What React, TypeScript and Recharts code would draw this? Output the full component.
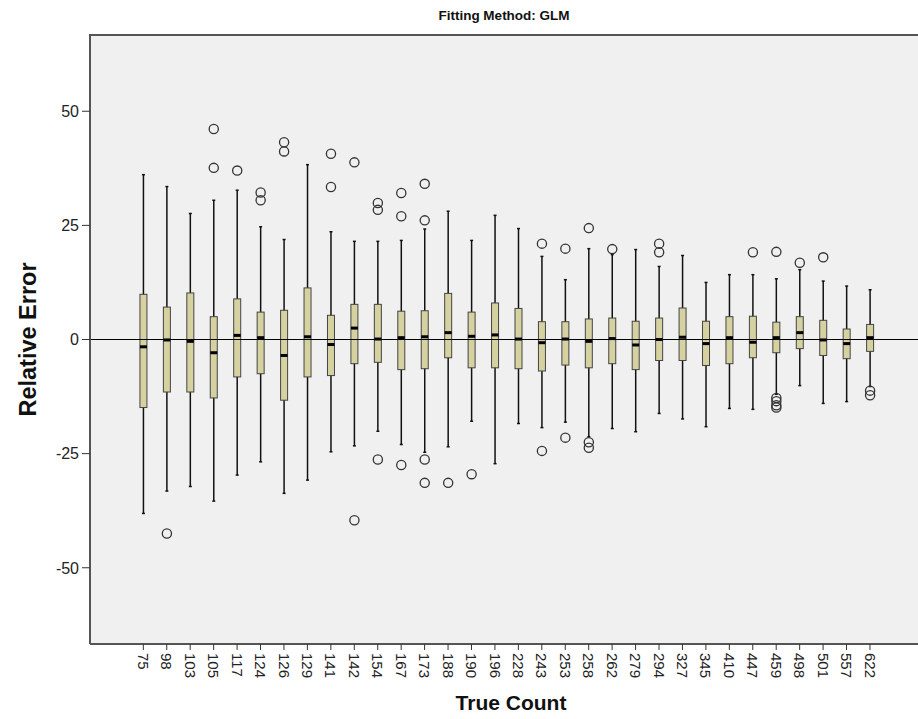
import React from 'react';
import { ComposedChart, Bar, XAxis, YAxis, CartesianGrid, ReferenceLine } from 'recharts';

const categories = ['75','98','103','105','117','124','126','129','141','142','154','167','173','188','190','196','228','243','253','258','262','279','294','327','345','410','447','459','498','501','557','622'];
const whiskerHigh = [36.1,33.5,27.6,30.5,32.7,24.7,21.9,38.3,23.6,21.5,21.5,21.7,24.2,28.1,21.7,27.2,24.3,18.2,13.1,19.9,18.6,19.7,16.0,18.4,12.5,14.2,14.2,13.3,15.3,12.8,11.7,10.9];
const q3 = [9.9,7.1,10.2,5.0,8.9,6.0,6.4,11.3,5.3,7.7,7.7,6.2,6.3,10.1,6.0,8.0,6.8,3.9,3.9,4.5,4.7,4.0,4.7,6.9,4.0,5.0,5.1,3.8,5.0,4.2,2.3,3.3];
const median = [-1.6,-0.1,-0.4,-2.9,0.9,0.4,-3.5,0.6,-1.1,2.5,0.1,0.4,0.6,1.5,0.7,1.0,0.1,-0.7,0.1,-0.4,0.2,-1.2,0.0,0.5,-0.9,0.4,-0.6,0.4,1.5,-0.1,-0.9,0.4];
const q1 = [-14.9,-11.5,-11.5,-12.8,-8.2,-7.5,-13.3,-8.2,-7.9,-5.3,-5.0,-6.6,-6.4,-4.0,-6.2,-6.2,-6.4,-6.9,-5.6,-6.2,-5.3,-6.6,-4.6,-4.6,-5.7,-5.3,-4.0,-2.9,-2.0,-3.5,-4.2,-2.6];
const whiskerLow = [-38.1,-33.2,-32.2,-35.4,-29.7,-26.8,-33.7,-30.8,-24.6,-23.3,-20.1,-23.0,-24.7,-23.5,-17.9,-27.2,-18.4,-19.3,-18.1,-21.3,-19.5,-20.2,-16.2,-17.4,-19.1,-15.1,-15.3,-12.0,-10.1,-14.0,-13.6,-10.3];
const outliers: number[][] = [
  [], [-42.5], [], [46.1, 37.6], [37.0], [32.2, 30.5], [43.2, 41.2], [], [40.7, 33.4], [38.8, -39.6],
  [29.9, 28.4, -26.3], [32.1, 27.0, -27.5], [34.1, 26.1, -26.3, -31.4], [-31.4], [-29.5], [], [],
  [21.0, -24.4], [19.9, -21.5], [24.4, -22.5, -23.7], [19.8], [], [21.0, 19.1], [], [], [], [19.1],
  [19.2, -12.8, -13.5, -14.4, -14.9], [16.8], [18.0], [], [-11.2, -12.2]
];
const yTicks = [-50, -25, 0, 25, 50];
const yDomain = [-66.7, 66.7];

const data = categories.map((c, i) => ({
  label: c,
  range: [whiskerLow[i], whiskerHigh[i]],
  lo: whiskerLow[i], hi: whiskerHigh[i], q1: q1[i], q3: q3[i], med: median[i], out: outliers[i],
}));

const FONT = '"Liberation Sans", Arial, sans-serif';

const BoxShape = (props: any) => {
  const { x, y, width, height, payload } = props;
  if (payload == null || x == null) return null;
  const top = Math.min(y, y + height);
  const bottom = Math.max(y, y + height);
  const ppu = (bottom - top) / (payload.hi - payload.lo);
  const py = (v: number) => bottom - (v - payload.lo) * ppu;
  const cx = x + width / 2;
  const bw = 7;
  const cap = 3;
  return (
    <g>
      <line x1={cx} x2={cx} y1={py(payload.hi)} y2={py(payload.lo)} stroke="#111" strokeWidth={1.5} />
      <line x1={cx - cap / 2} x2={cx + cap / 2} y1={py(payload.hi)} y2={py(payload.hi)} stroke="#111" strokeWidth={1.5} />
      <line x1={cx - cap / 2} x2={cx + cap / 2} y1={py(payload.lo)} y2={py(payload.lo)} stroke="#111" strokeWidth={1.5} />
      <rect x={cx - bw / 2} y={py(payload.q3)} width={bw} height={py(payload.q1) - py(payload.q3)} fill="#d6d1a0" stroke="#444" strokeWidth={1} />
      <rect x={cx - bw / 2} y={py(payload.med) - 1.5} width={bw} height={3} fill="#000" />
      {payload.out.map((v: number, k: number) => (
        <circle key={k} cx={cx} cy={py(v)} r={4.6} fill="none" stroke="#333" strokeWidth={1.3} />
      ))}
    </g>
  );
};

const XTick = (props: any) => {
  const { x, y, payload } = props;
  return (
    <g transform={`translate(${x},${y})`}>
      <text transform="rotate(90)" x={1} y={0} dy="0.36em" textAnchor="start" fontSize={15} fontFamily={FONT} fill="#222">
        {payload.value}
      </text>
    </g>
  );
};

const YTick = (props: any) => {
  const { x, y, payload } = props;
  return (
    <text x={x - 1} y={y} dy="0.36em" textAnchor="end" fontSize={16} fontFamily={FONT} fill="#222">
      {payload.value}
    </text>
  );
};

export default function App() {
  return (
    <div style={{ position: 'absolute', left: 0, top: 0, width: 918, height: 719, overflow: 'hidden', background: '#fff' }}>
      <ComposedChart width={918} height={719} data={data} margin={{ top: 35, right: 0, bottom: 0, left: 0 }}>
        <CartesianGrid fill="#f0f0f0" horizontal={false} vertical={false} />
        <XAxis
          dataKey="label"
          type="category"
          interval={0}
          padding={{ left: 41.6, right: 36.3 }}
          height={75}
          tickSize={6}
          tick={<XTick />}
          axisLine={{ stroke: '#555', strokeWidth: 2 }}
          tickLine={{ stroke: '#333' }}
        />
        <YAxis
          type="number"
          domain={yDomain}
          ticks={yTicks}
          allowDataOverflow
          width={90}
          tickSize={8}
          tick={<YTick />}
          axisLine={{ stroke: '#555', strokeWidth: 2 }}
          tickLine={{ stroke: '#333' }}
        />
        <Bar dataKey="range" shape={<BoxShape />} isAnimationActive={false} />
        <ReferenceLine y={0} stroke="#000" strokeWidth={1} />
      </ComposedChart>
      <div style={{ position: 'absolute', left: 89, top: 34, width: 829, height: 2, background: '#555' }} />
      <div style={{ position: 'absolute', left: 90, width: 828, top: 8, textAlign: 'center', fontFamily: FONT, fontWeight: 'bold', fontSize: 13.5, color: '#111' }}>
        Fitting Method: GLM
      </div>
      <div style={{ position: 'absolute', left: 97, width: 828, top: 691, textAlign: 'center', fontFamily: FONT, fontWeight: 'bold', fontSize: 21, color: '#111' }}>
        True Count
      </div>
      <div style={{ position: 'absolute', left: 28, top: 340, width: 0, height: 0 }}>
        <div style={{ position: 'absolute', left: -120, top: -14, width: 240, textAlign: 'center', transform: 'rotate(-90deg)', fontFamily: FONT, fontWeight: 'bold', fontSize: 23.5, color: '#111', whiteSpace: 'nowrap' }}>
          Relative Error
        </div>
      </div>
    </div>
  );
}
